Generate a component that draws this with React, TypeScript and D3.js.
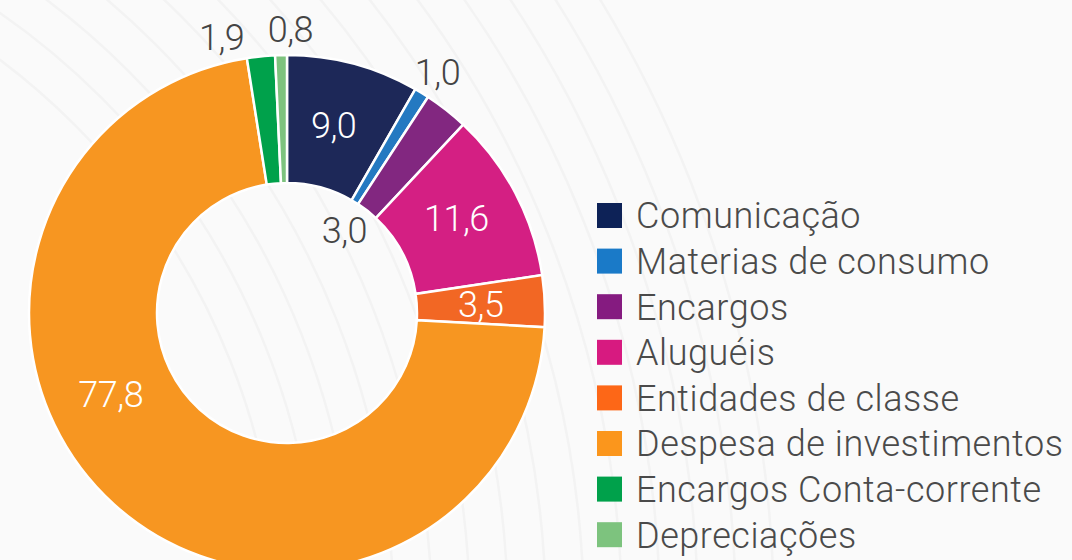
import React from 'react';
import * as d3 from 'd3';

const categories = [
  'Comunicação',
  'Materias de consumo',
  'Encargos',
  'Aluguéis',
  'Entidades de classe',
  'Despesa de investimentos',
  'Encargos Conta-corrente',
  'Depreciações',
];
const values = [9.0, 1.0, 3.0, 11.6, 3.5, 77.8, 1.9, 0.8];
const sliceColors = ['#1d2858', '#2479c1', '#822780', '#d41f83', '#f26724', '#f79621', '#00a14b', '#7dc37e'];
const legendColors = ['#0d2257', '#1a7ac8', '#851b80', '#d71a80', '#fd6717', '#fb961c', '#00a14b', '#7dc37e'];

// where each value label sits: "in" = middle of ring, "out" = outside ring, "hole" = inside hole
// shift is an angle nudge in degrees (keeps tiny labels apart)
const labelPlace = [
  { where: 'in', shift: -1, along: 0.5 },
  { where: 'out', shift: 0.5, along: 0.5 },
  { where: 'hole', shift: -3.5, along: 0.5 },
  { where: 'in', shift: -1.5, along: 0.5 },
  { where: 'in', shift: 0, along: 0.5 },
  { where: 'in', shift: 0, along: 0.59 },
  { where: 'out', shift: -7.5, along: 0.5 },
  { where: 'out', shift: 2, along: 0.5 },
];

const fmt = (v: number) => v.toFixed(1).replace('.', ',');

export default function App() {
  const width = 1072;
  const height = 560;
  const cx = 287;
  const cy = 313;
  const outerR = 258;
  const innerR = 130;

  const pie = d3.pie<number>().sort(null).value((d) => d);
  const arcs = pie(values);
  const arc = d3.arc<d3.PieArcDatum<number>>().innerRadius(innerR).outerRadius(outerR);

  const radiusFor = (w: string) => (w === 'in' ? (innerR + outerR) / 2 : w === 'out' ? 284 : 101);

  // faint decorative swooshes in the background
  const swooshes = d3.range(14).map((i) => 700 + i * 38);

  return (
    <div style={{ position: 'fixed', left: 0, top: 0 }}>
      <svg width={width} height={height} style={{ display: 'block' }}>
        <rect width={width} height={height} fill="#fafafa" />
        <g fill="none" stroke="#f3f3f3" strokeWidth={2.5}>
          {swooshes.map((r, i) => (
            <circle key={i} cx={-420} cy={620} r={r} />
          ))}
        </g>
        <g transform={`translate(${cx},${cy})`}>
          {arcs.map((a, i) => (
            <path key={i} d={arc(a) ?? ''} fill={sliceColors[i]} stroke="#ffffff" strokeWidth={2.5} />
          ))}
          {arcs.map((a, i) => {
            const p = labelPlace[i];
            const ang = a.startAngle + (a.endAngle - a.startAngle) * p.along + (p.shift * Math.PI) / 180;
            const r = radiusFor(p.where);
            const x = r * Math.sin(ang);
            const y = -r * Math.cos(ang);
            return (
              <text
                key={i}
                x={x}
                y={y}
                textAnchor="middle"
                dy="0.36em"
                fontFamily="Roboto, sans-serif"
                fontWeight={300}
                fontSize={36}
                letterSpacing={-0.5}
                fill={p.where === 'in' ? '#ffffff' : '#444444'}
              >
                {fmt(values[i])}
              </text>
            );
          })}
        </g>
        <g transform="translate(597,203)">
          {categories.map((c, i) => (
            <g key={c} transform={`translate(0,${i * 45.6})`}>
              <rect width={25} height={25} fill={legendColors[i]} />
              <text
                x={39}
                y={12.5}
                dy="0.36em"
                fontFamily="Roboto, sans-serif"
                fontWeight={300}
                fontSize={36}
                letterSpacing={0.55}
                fill="#4a4a4a"
              >
                {c}
              </text>
            </g>
          ))}
        </g>
      </svg>
    </div>
  );
}
